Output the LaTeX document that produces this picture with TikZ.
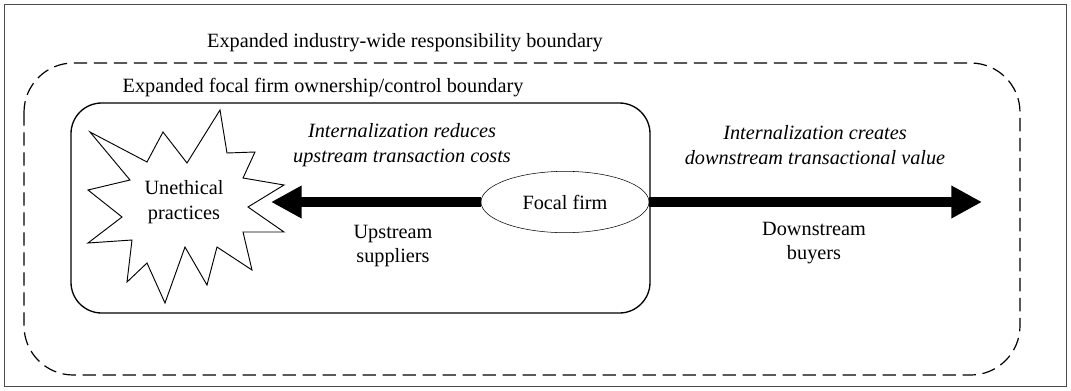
\documentclass[tikz,border=0pt]{standalone}
\usepackage{fontspec}
\setmainfont{Liberation Serif}
\usetikzlibrary{shapes.geometric,arrows.meta}

\begin{document}
\begin{tikzpicture}[x=0.75pt,y=-0.75pt,font=\fontsize{15.2}{18.5}\selectfont]
\useasboundingbox (0,0) rectangle (1071,390);
% Frame
\draw[gray!60!black] (4,4) rectangle (1066,386);

% Boundaries
\draw[line width=0.9pt, dash pattern=on 10pt off 5pt, rounded corners=37pt] (24,63) rectangle (1020,375);
\node (indlabel) at (405,43) {Expanded industry-wide responsibility boundary};
\draw[line width=1pt, rounded corners=23pt] (71,103) rectangle (650,313);
\node (firmlabel) at (323,88) {Expanded focal firm ownership/control boundary};

% Unethical practices (burst)
\draw[line width=0.7pt, fill=white] (90,132) -- (147,162) -- (163,132) -- (187,163) -- (220,110)
  -- (227,153) -- (255,152) -- (243,178) -- (284,185) -- (248,207) -- (284,232)
  -- (243,232) -- (252,270) -- (217,247) -- (207,285) -- (185,247) -- (165,303)
  -- (147,263) -- (127,282) -- (132,240) -- (88,243) -- (122,217) -- (88,190)
  -- (130,180) -- cycle;
\node[align=center] (unethical) at (184,202) {Unethical\\practices};

% Focal firm and arrows
\node[ellipse, draw, fill=white, minimum width=126pt, minimum height=46pt,
  inner sep=0pt] (focal) at (565,202) {Focal firm};
\coordinate (uptip) at (271,202);
\coordinate (downtip) at (982,202);
\draw[line width=7pt, -{Triangle[length=23pt,width=23pt]}] (focal.west) -- (uptip);
\draw[line width=7pt, -{Triangle[length=23pt,width=23pt]}] (focal.east) -- (downtip);

\node[font=\fontsize{15.2}{18.5}\selectfont\itshape, align=center] (upnote) at (402,145)
  {Internalization reduces\\upstream transaction costs};
\node[font=\fontsize{15.2}{18.5}\selectfont\itshape, align=center] (downnote) at (815,145)
  {Internalization creates\\downstream transactional value};
\node[align=center] (suppliers) at (393,246) {Upstream\\suppliers};
\node[align=center] (buyers) at (814,243) {Downstream\\buyers};
\end{tikzpicture}
\end{document}
